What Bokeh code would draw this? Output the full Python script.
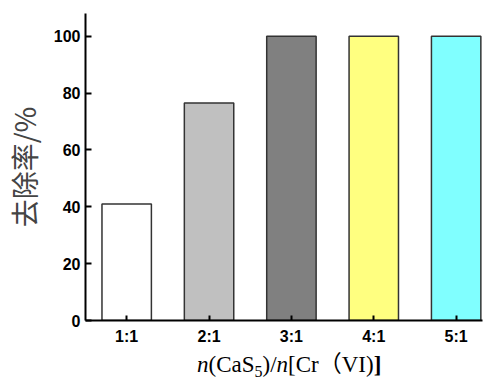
from bokeh.plotting import figure
from bokeh.models import Range1d, FixedTicker, ColumnDataSource, Div
from bokeh.layouts import column
from bokeh.embed import file_html
from bokeh.resources import INLINE

categories = ["1:1", "2:1", "3:1", "4:1", "5:1"]
removal = [41.0, 76.5, 100.0, 100.0, 100.0]
fill_colors = ["#ffffff", "#c0c0c0", "#808080", "#ffff80", "#80ffff"]
y_ticks = [0, 20, 40, 60, 80, 100]
y_title = "去除率/%"

positions = [i + 1 for i in range(len(categories))]
src = ColumnDataSource(dict(x=positions, top=removal, color=fill_colors))

p = figure(width=487, height=348, output_backend="svg", toolbar_location=None,
           x_range=Range1d(0.5, 5.32), y_range=Range1d(0, 108),
           min_border_left=80, min_border_right=5, min_border_top=13, min_border_bottom=28)
p.outline_line_color = None
p.xgrid.visible = False
p.ygrid.visible = False
p.background_fill_color = "white"
p.border_fill_color = "white"

p.vbar(x="x", top="top", width=0.6, bottom=0, source=src, fill_color="color",
       line_color="#333333", line_width=1.5)

for ax in (p.xaxis[0], p.yaxis[0]):
    ax.axis_line_color = "black"
    ax.axis_line_width = 2
    ax.major_tick_line_color = "black"
    ax.major_tick_line_width = 2
    ax.major_tick_in = 6
    ax.major_tick_out = 0
    ax.minor_tick_line_color = None
    ax.major_label_text_font = "Liberation Sans"
    ax.major_label_text_font_style = "bold"
    ax.major_label_text_font_size = "16px"
    ax.major_label_text_color = "black"

p.xaxis.ticker = FixedTicker(ticks=positions)
p.xaxis.major_label_overrides = {pos: lab for pos, lab in zip(positions, categories)}
p.xaxis.major_tick_in = 5
p.xaxis.major_label_standoff = 7
p.yaxis.ticker = FixedTicker(ticks=y_ticks)
p.yaxis.major_label_standoff = 5
p.yaxis.axis_label = y_title
p.yaxis.axis_label_text_font = "Noto Sans CJK SC"
p.yaxis.axis_label_text_font_style = "normal"
p.yaxis.axis_label_text_font_size = "28px"
p.yaxis.axis_label_text_color = "#444444"
p.yaxis.axis_label_standoff = 7

x_title = ('<div style="padding-left:197px; padding-top:4px; font-family:\'Liberation Serif\', \'Noto Sans CJK SC\', serif; '
           'font-size:23px; line-height:26px; white-space:nowrap; color:black;">'
           '<i>n</i>(CaS<sub style="font-size:16px; line-height:0; vertical-align:-5px;">5</sub>)/<i>n</i>[Cr（VI)<b>]</b></div>')
div = Div(text=x_title, width=487, height=32, margin=(0, 0, 0, 0))

layout = column(p, div, spacing=0)

open("out.html", "w").write(file_html(layout, INLINE))
